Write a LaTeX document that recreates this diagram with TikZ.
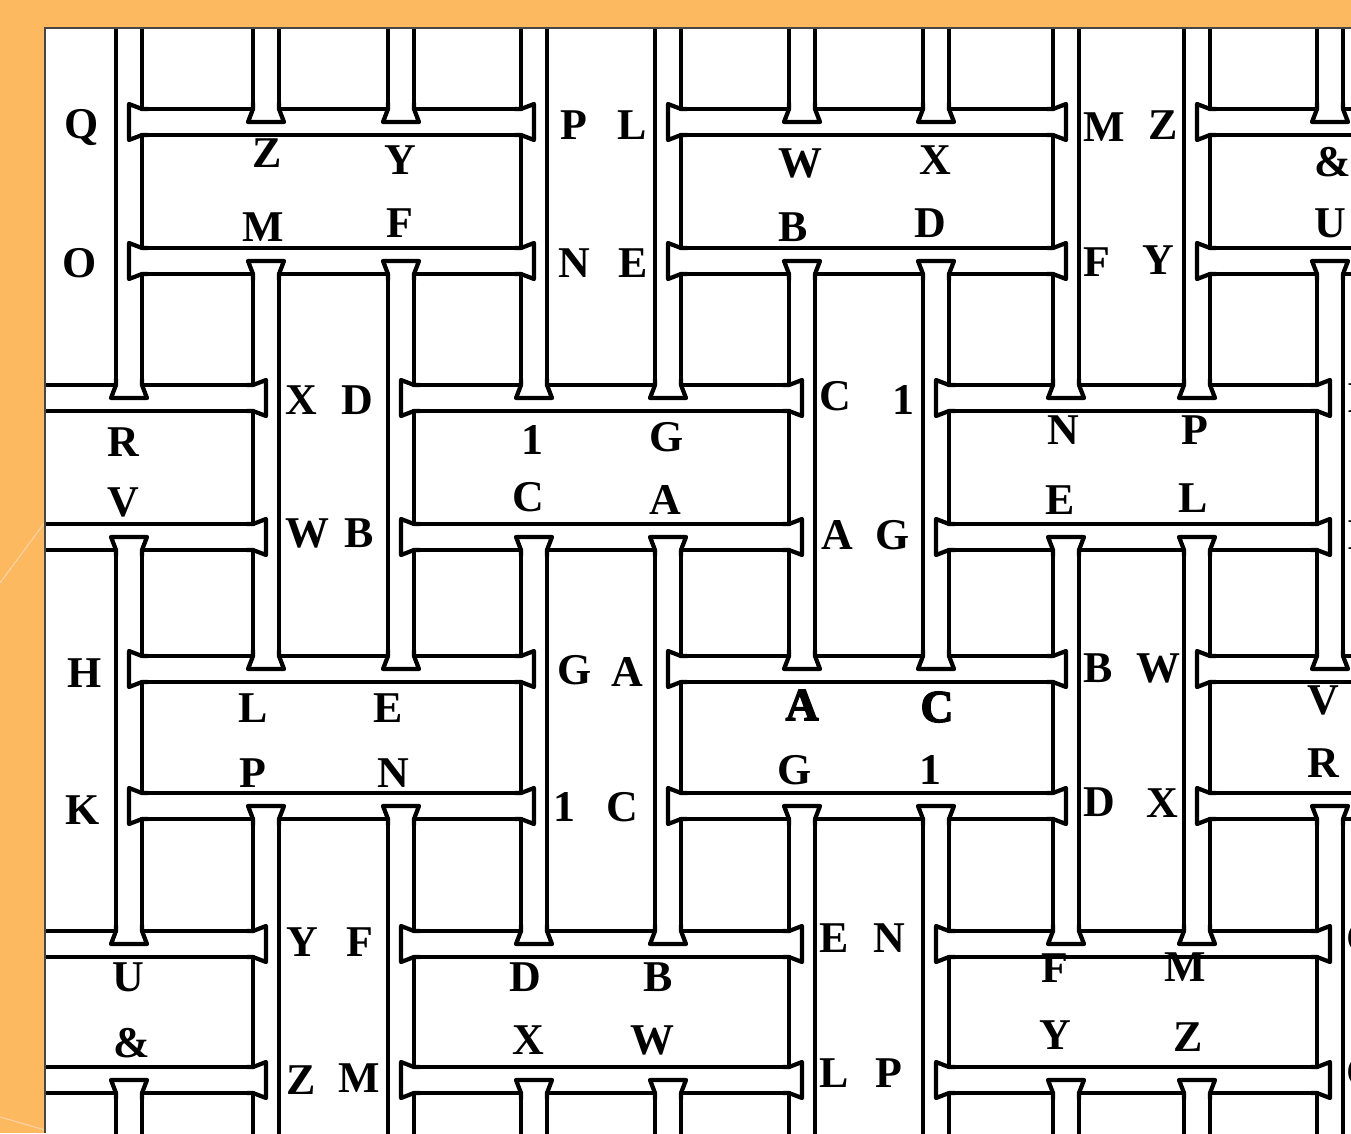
\documentclass[tikz,border=0pt]{standalone}
\usepackage{fontspec}
\setmainfont{Liberation Serif}
\newfontfamily\heavyface{Liberation Serif}[BoldFeatures={FakeBold=3}]
\usetikzlibrary{positioning}

\definecolor{slideorange}{RGB}{253,185,96}
\definecolor{panelrim}{RGB}{70,70,70}

\pgfdeclarelayer{joints}
\pgfsetlayers{main,joints}

\newcommand{\barhalf}{13}
\newcommand{\capflare}{18}

% flared end of a bar that stops in the middle of a crossing bar
\newcommand{\hend}[3]{% row y, end x, +1 if the bar runs right from here
  \pgfmathsetmacro{\jnear}{#2+(#3)*\barhalf}
  \pgfmathsetmacro{\jpast}{#2+(#3)*(\barhalf+6)}
  \fill[white] (\jpast,#1-\barhalf+2) -- (\jnear,#1-\barhalf+2) -- (#2,#1-\capflare+2) -- (#2,#1+\capflare-2) -- (\jnear,#1+\barhalf-2) -- (\jpast,#1+\barhalf-2) -- cycle;
  \draw[plank line] (\jpast,#1-\barhalf) -- (\jnear,#1-\barhalf) -- (#2,#1-\capflare) -- (#2,#1+\capflare) -- (\jnear,#1+\barhalf) -- (\jpast,#1+\barhalf);}
\newcommand{\vend}[3]{% column x, end y, +1 if the bar runs down from here
  \pgfmathsetmacro{\jnear}{#2+(#3)*\barhalf}
  \pgfmathsetmacro{\jpast}{#2+(#3)*(\barhalf+6)}
  \fill[white] (#1-\barhalf+2,\jpast) -- (#1-\barhalf+2,\jnear) -- (#1-\capflare+2,#2) -- (#1+\capflare-2,#2) -- (#1+\barhalf-2,\jnear) -- (#1+\barhalf-2,\jpast) -- cycle;
  \draw[plank line] (#1-\barhalf,\jpast) -- (#1-\barhalf,\jnear) -- (#1-\capflare,#2) -- (#1+\capflare,#2) -- (#1+\barhalf,\jnear) -- (#1+\barhalf,\jpast);}

% whole bars
\newcommand{\hplank}[3]{% row y, from x, to x
  \filldraw[plank] (#2,#1-\barhalf) rectangle (#3,#1+\barhalf);
  \begin{pgfonlayer}{joints}\hend{#1}{#2}{1}\hend{#1}{#3}{-1}\end{pgfonlayer}}
\newcommand{\vplank}[3]{% column x, from y, to y
  \filldraw[plank] (#1-\barhalf,#2) rectangle (#1+\barhalf,#3);
  \begin{pgfonlayer}{joints}\vend{#1}{#2}{1}\vend{#1}{#3}{-1}\end{pgfonlayer}}

\begin{document}
\begin{tikzpicture}[x=0.02cm, y=-0.02cm,
    plank/.style={fill=white, draw=black, line width=2.4pt},
    plank line/.style={draw=black, line width=2.4pt, line cap=round, line join=round},
    glyph/.style={font=\fontsize{25}{25}\selectfont\bfseries, inner sep=0pt},
    heavy/.style={font=\fontsize{26}{26}\selectfont\heavyface\bfseries, inner sep=0pt}]

    % Slide background
    \useasboundingbox (0,0) rectangle (1351,1133);
    \fill[slideorange] (0,0) rectangle (1351,1133);
    \draw[orange!35!white, line width=0.6pt] (0,583) -- (45,522);
    \draw[orange!35!white, line width=0.6pt] (0,1117) -- (45,1130);
    \fill[white] (45,28) rectangle (1351,1133);

    \begin{scope}
        \clip (45,28) rectangle (1351,1133);

        % Horizontal bars, rows 1, 2, 5, 6
        \hplank{122}{129}{534}  \hplank{122}{668}{1066}  \hplank{122}{1197}{1500}
        \hplank{261}{129}{534}  \hplank{261}{668}{1066}  \hplank{261}{1197}{1500}
        \hplank{669}{129}{534}  \hplank{669}{668}{1066}  \hplank{669}{1197}{1500}
        \hplank{806}{129}{534}  \hplank{806}{668}{1066}  \hplank{806}{1197}{1500}

        % Horizontal bars, rows 3, 4, 7, 8
        \hplank{398}{-100}{266}  \hplank{398}{401}{802}  \hplank{398}{936}{1330}
        \hplank{537}{-100}{266}  \hplank{537}{401}{802}  \hplank{537}{936}{1330}
        \hplank{944}{-100}{266}  \hplank{944}{401}{802}  \hplank{944}{936}{1330}
        \hplank{1080}{-100}{266} \hplank{1080}{401}{802} \hplank{1080}{936}{1330}

        % Vertical bars, columns Q, P, L, M, Z
        \vplank{129}{-100}{398}  \vplank{129}{537}{944}  \vplank{129}{1080}{1250}
        \vplank{534}{-100}{398}  \vplank{534}{537}{944}  \vplank{534}{1080}{1250}
        \vplank{668}{-100}{398}  \vplank{668}{537}{944}  \vplank{668}{1080}{1250}
        \vplank{1066}{-100}{398} \vplank{1066}{537}{944} \vplank{1066}{1080}{1250}
        \vplank{1197}{-100}{398} \vplank{1197}{537}{944} \vplank{1197}{1080}{1250}

        % Vertical bars, columns between
        \vplank{266}{-100}{122}  \vplank{266}{261}{669}  \vplank{266}{806}{1250}
        \vplank{401}{-100}{122}  \vplank{401}{261}{669}  \vplank{401}{806}{1250}
        \vplank{802}{-100}{122}  \vplank{802}{261}{669}  \vplank{802}{806}{1250}
        \vplank{936}{-100}{122}  \vplank{936}{261}{669}  \vplank{936}{806}{1250}
        \vplank{1330}{-100}{122} \vplank{1330}{261}{669} \vplank{1330}{806}{1250}

        % Letters beside the bar ends
        \node[glyph] (q)  at (82,128)   {Q};
        \node[glyph] (o)  at (80,263)   {O};
        \node[glyph] (h)  at (85,673)   {H};
        \node[glyph] (k)  at (83,810)   {K};
        \node[glyph] (p1) at (574,125)  {P};
        \node[glyph] (l1) at (632,125)  {L};
        \node[glyph] (n1) at (574,263)  {N};
        \node[glyph] (e1) at (633,263)  {E};
        \node[glyph] (m1) at (1104,127) {M};
        \node[glyph] (z1) at (1163,125) {Z};
        \node[glyph] (f1) at (1097,262) {F};
        \node[glyph] (y1) at (1158,260) {Y};
        \node[glyph] (x1) at (301,400)  {X};
        \node[glyph] (d1) at (357,400)  {D};
        \node[glyph] (w1) at (307,533)  {W};
        \node[glyph] (b1) at (359,533)  {B};
        \node[glyph] (c1) at (835,396)  {C};
        \node[glyph] (i1) at (903,400)  {1};
        \node[glyph] (a1) at (837,535)  {A};
        \node[glyph] (g1) at (893,535)  {G};
        \node[glyph] (g2) at (575,670)  {G};
        \node[glyph] (a2) at (627,672)  {A};
        \node[glyph] (b2) at (1098,668) {B};
        \node[glyph] (w2) at (1158,668) {W};
        \node[glyph] (i2) at (564,807)  {1};
        \node[glyph] (c2) at (622,807)  {C};
        \node[glyph] (d2) at (1099,802) {D};
        \node[glyph] (x2) at (1162,803) {X};
        \node[glyph] (y2) at (302,942)  {Y};
        \node[glyph] (f2) at (360,942)  {F};
        \node[glyph] (e2) at (834,938)  {E};
        \node[glyph] (n2) at (889,938)  {N};
        \node[glyph] (z2) at (301,1080) {Z};
        \node[glyph] (m2) at (359,1078) {M};
        \node[glyph] (l2) at (834,1073) {L};
        \node[glyph] (p2) at (889,1073) {P};
        \node[glyph] (i3) at (1356,398)  {I};
        \node[glyph] (i4) at (1356,535)  {I};
        \node[glyph] (c3) at (1362,938)  {C};
        \node[glyph] (c4) at (1362,1072) {C};

        % Letters between the bar ends
        \node[glyph] (r1) at (123,442)  {R};
        \node[glyph] (v1) at (123,502)  {V};
        \node[glyph] (u1) at (128,977)  {U};
        \node[glyph] (et1) at (132,1043) {\&};
        \node[glyph] (z3) at (267,153)  {Z};
        \node[glyph] (m3) at (263,227)  {M};
        \node[glyph] (y3) at (400,160)  {Y};
        \node[glyph] (f3) at (400,223)  {F};
        \node[glyph] (l3) at (253,708)  {L};
        \node[glyph] (p3) at (253,773)  {P};
        \node[glyph] (e3) at (388,708)  {E};
        \node[glyph] (n3) at (393,773)  {N};
        \node[glyph] (i5) at (532,440)  {1};
        \node[glyph] (c5) at (528,497)  {C};
        \node[glyph] (d3) at (525,977)  {D};
        \node[glyph] (x3) at (528,1040) {X};
        \node[glyph] (g3) at (667,437)  {G};
        \node[glyph] (a3) at (665,500)  {A};
        \node[glyph] (b3) at (658,977)  {B};
        \node[glyph] (w3) at (652,1040) {W};
        \node[glyph] (w4) at (800,163)  {W};
        \node[glyph] (b4) at (793,227)  {B};
        \node[heavy] (a4) at (802,705)  {A};
        \node[glyph] (g4) at (795,770)  {G};
        \node[glyph] (x4) at (935,160)  {X};
        \node[glyph] (d4) at (930,223)  {D};
        \node[heavy] (c6) at (937,707)  {C};
        \node[glyph] (i6) at (930,770)  {1};
        \node[glyph] (n4) at (1063,430) {N};
        \node[glyph] (e4) at (1060,500) {E};
        \node[glyph] (f4) at (1055,968) {F};
        \node[glyph] (y4) at (1055,1035) {Y};
        \node[glyph] (p4) at (1195,430) {P};
        \node[glyph] (l4) at (1193,498) {L};
        \node[glyph] (m4) at (1185,967) {M};
        \node[glyph] (z4) at (1188,1037) {Z};
        \node[glyph] (et2) at (1333,162) {\&};
        \node[glyph] (u2) at (1330,223) {U};
        \node[glyph] (v2) at (1323,700) {V};
        \node[glyph] (r2) at (1323,763) {R};
    \end{scope}

    % Panel rim
    \draw[panelrim, line width=1pt] (45,1133) -- (45,28) -- (1351,28);
\end{tikzpicture}
\end{document}
